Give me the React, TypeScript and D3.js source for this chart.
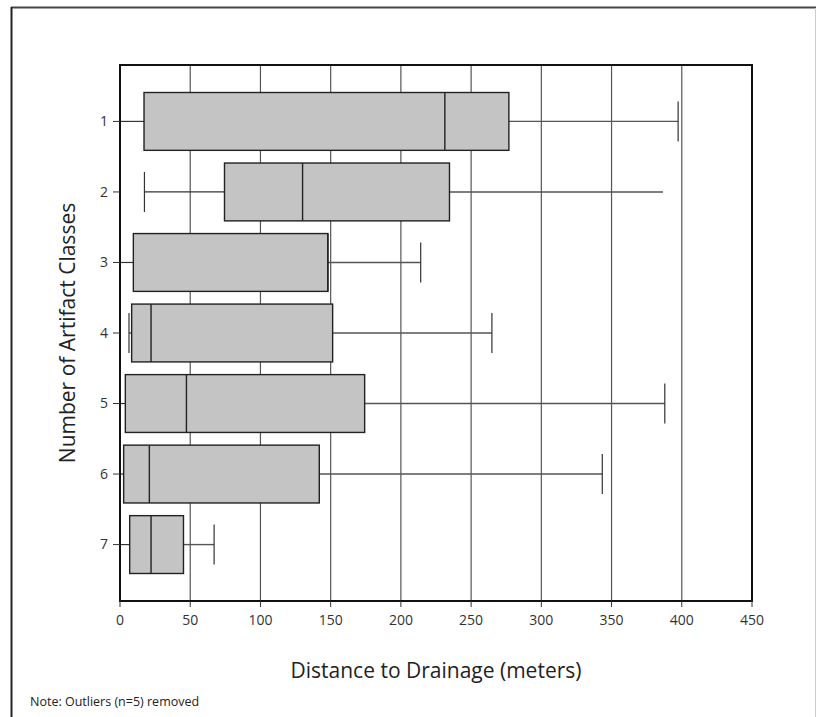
import React from 'react'
import * as d3 from 'd3'

// Boxplot: distance to drainage by number of artifact classes
const classes = ['1', '2', '3', '4', '5', '6', '7']
const whiskerLow = [0, 17.4, 0, 6.4, 0, 0, 0]
const q1 = [17.1, 74.4, 9.5, 8.3, 3.8, 2.6, 6.9]
const medians = [231.3, 130, 148, 22.1, 47.3, 20.9, 22.1]
const q3 = [276.9, 234.6, 148, 151.4, 174.2, 141.9, 45.2]
const whiskerHigh = [397.4, 386.6, 214.1, 264.8, 387.9, 343.4, 67]
const highCap = [true, false, true, true, true, true, true]
const xTicks = [0, 50, 100, 150, 200, 250, 300, 350, 400, 450]

const W = 816
const H = 717
const frame = { left: 120, right: 752, top: 65, bottom: 601 }
const font = '"Open Sans", "DejaVu Sans", sans-serif'

export default function App() {
  const x = d3.scaleLinear().domain([0, 450]).range([frame.left, frame.right])
  const y = d3.scalePoint<string>().domain(classes).range([frame.top, frame.bottom]).padding(0.8)
  const step = y.step()
  const boxH = step * 0.82
  const capH = 40

  const rows = classes.map((c, i) => ({
    c,
    lo: whiskerLow[i],
    q1: q1[i],
    med: medians[i],
    q3: q3[i],
    hi: whiskerHigh[i],
    cap: highCap[i],
  }))

  return (
    <div style={{ position: 'absolute', left: 0, top: 0 }}>
      <svg width={W} height={H} style={{ display: 'block', fontFamily: font }}>
        <rect x={0} y={0} width={W} height={H} fill="#fff" />
        {/* outer border */}
        <line x1={11} x2={W} y1={7.5} y2={7.5} stroke="#444" strokeWidth={2} />
        <line x1={11.5} x2={11.5} y1={7} y2={H} stroke="#222" strokeWidth={2} />
        <line x1={815.5} x2={815.5} y1={8} y2={H} stroke="#ccc" strokeWidth={1} />

        {/* vertical gridlines */}
        {xTicks.slice(1, -1).map((t) => (
          <line key={t} x1={x(t)} x2={x(t)} y1={frame.top} y2={frame.bottom} stroke="#555" strokeWidth={1.2} />
        ))}

        {/* boxes */}
        {rows.map((r) => {
          const cy = y(r.c) as number
          return (
            <g key={r.c}>
              <line x1={x(r.lo)} x2={x(r.q1)} y1={cy} y2={cy} stroke="#333" strokeWidth={1.2} />
              <line x1={x(r.q3)} x2={x(r.hi)} y1={cy} y2={cy} stroke="#555" strokeWidth={1.4} />
              <line x1={x(r.lo)} x2={x(r.lo)} y1={cy - capH / 2} y2={cy + capH / 2} stroke="#333" strokeWidth={1.2} />
              {r.cap && (
                <line x1={x(r.hi)} x2={x(r.hi)} y1={cy - capH / 2} y2={cy + capH / 2} stroke="#333" strokeWidth={1.2} />
              )}
              <rect
                x={x(r.q1)}
                y={cy - boxH / 2}
                width={x(r.q3) - x(r.q1)}
                height={boxH}
                fill="#c4c4c4"
                stroke="#222"
                strokeWidth={1.4}
              />
              <line x1={x(r.med)} x2={x(r.med)} y1={cy - boxH / 2} y2={cy + boxH / 2} stroke="#222" strokeWidth={1.4} />
            </g>
          )
        })}

        {/* plot frame */}
        <rect
          x={frame.left}
          y={frame.top}
          width={frame.right - frame.left}
          height={frame.bottom - frame.top}
          fill="none"
          stroke="#111"
          strokeWidth={2}
        />

        {/* x axis ticks */}
        {xTicks.map((t) => (
          <g key={t} transform={`translate(${x(t)},${frame.bottom})`}>
            <line y1={0} y2={6} stroke="#333" />
            <text y={24} textAnchor="middle" fontSize={14} fill="#333">
              {t}
            </text>
          </g>
        ))}

        {/* y axis ticks */}
        {classes.map((c) => (
          <g key={c} transform={`translate(${frame.left},${y(c)})`}>
            <line x1={-7} x2={0} stroke="#333" />
            <text x={-12} dy="0.35em" textAnchor="end" fontSize={14} fill="#333">
              {c}
            </text>
          </g>
        ))}

        <text x={(frame.left + frame.right) / 2} y={678} textAnchor="middle" fontSize={21} fill="#222">
          Distance to Drainage (meters)
        </text>
        <text
          transform={`translate(75,${(frame.top + frame.bottom) / 2}) rotate(-90)`}
          textAnchor="middle"
          fontSize={21}
          fill="#222"
        >
          Number of Artifact Classes
        </text>
        <text x={30} y={706} fontSize={12.5} fill="#222">
          Note: Outliers (n=5) removed
        </text>
      </svg>
    </div>
  )
}
